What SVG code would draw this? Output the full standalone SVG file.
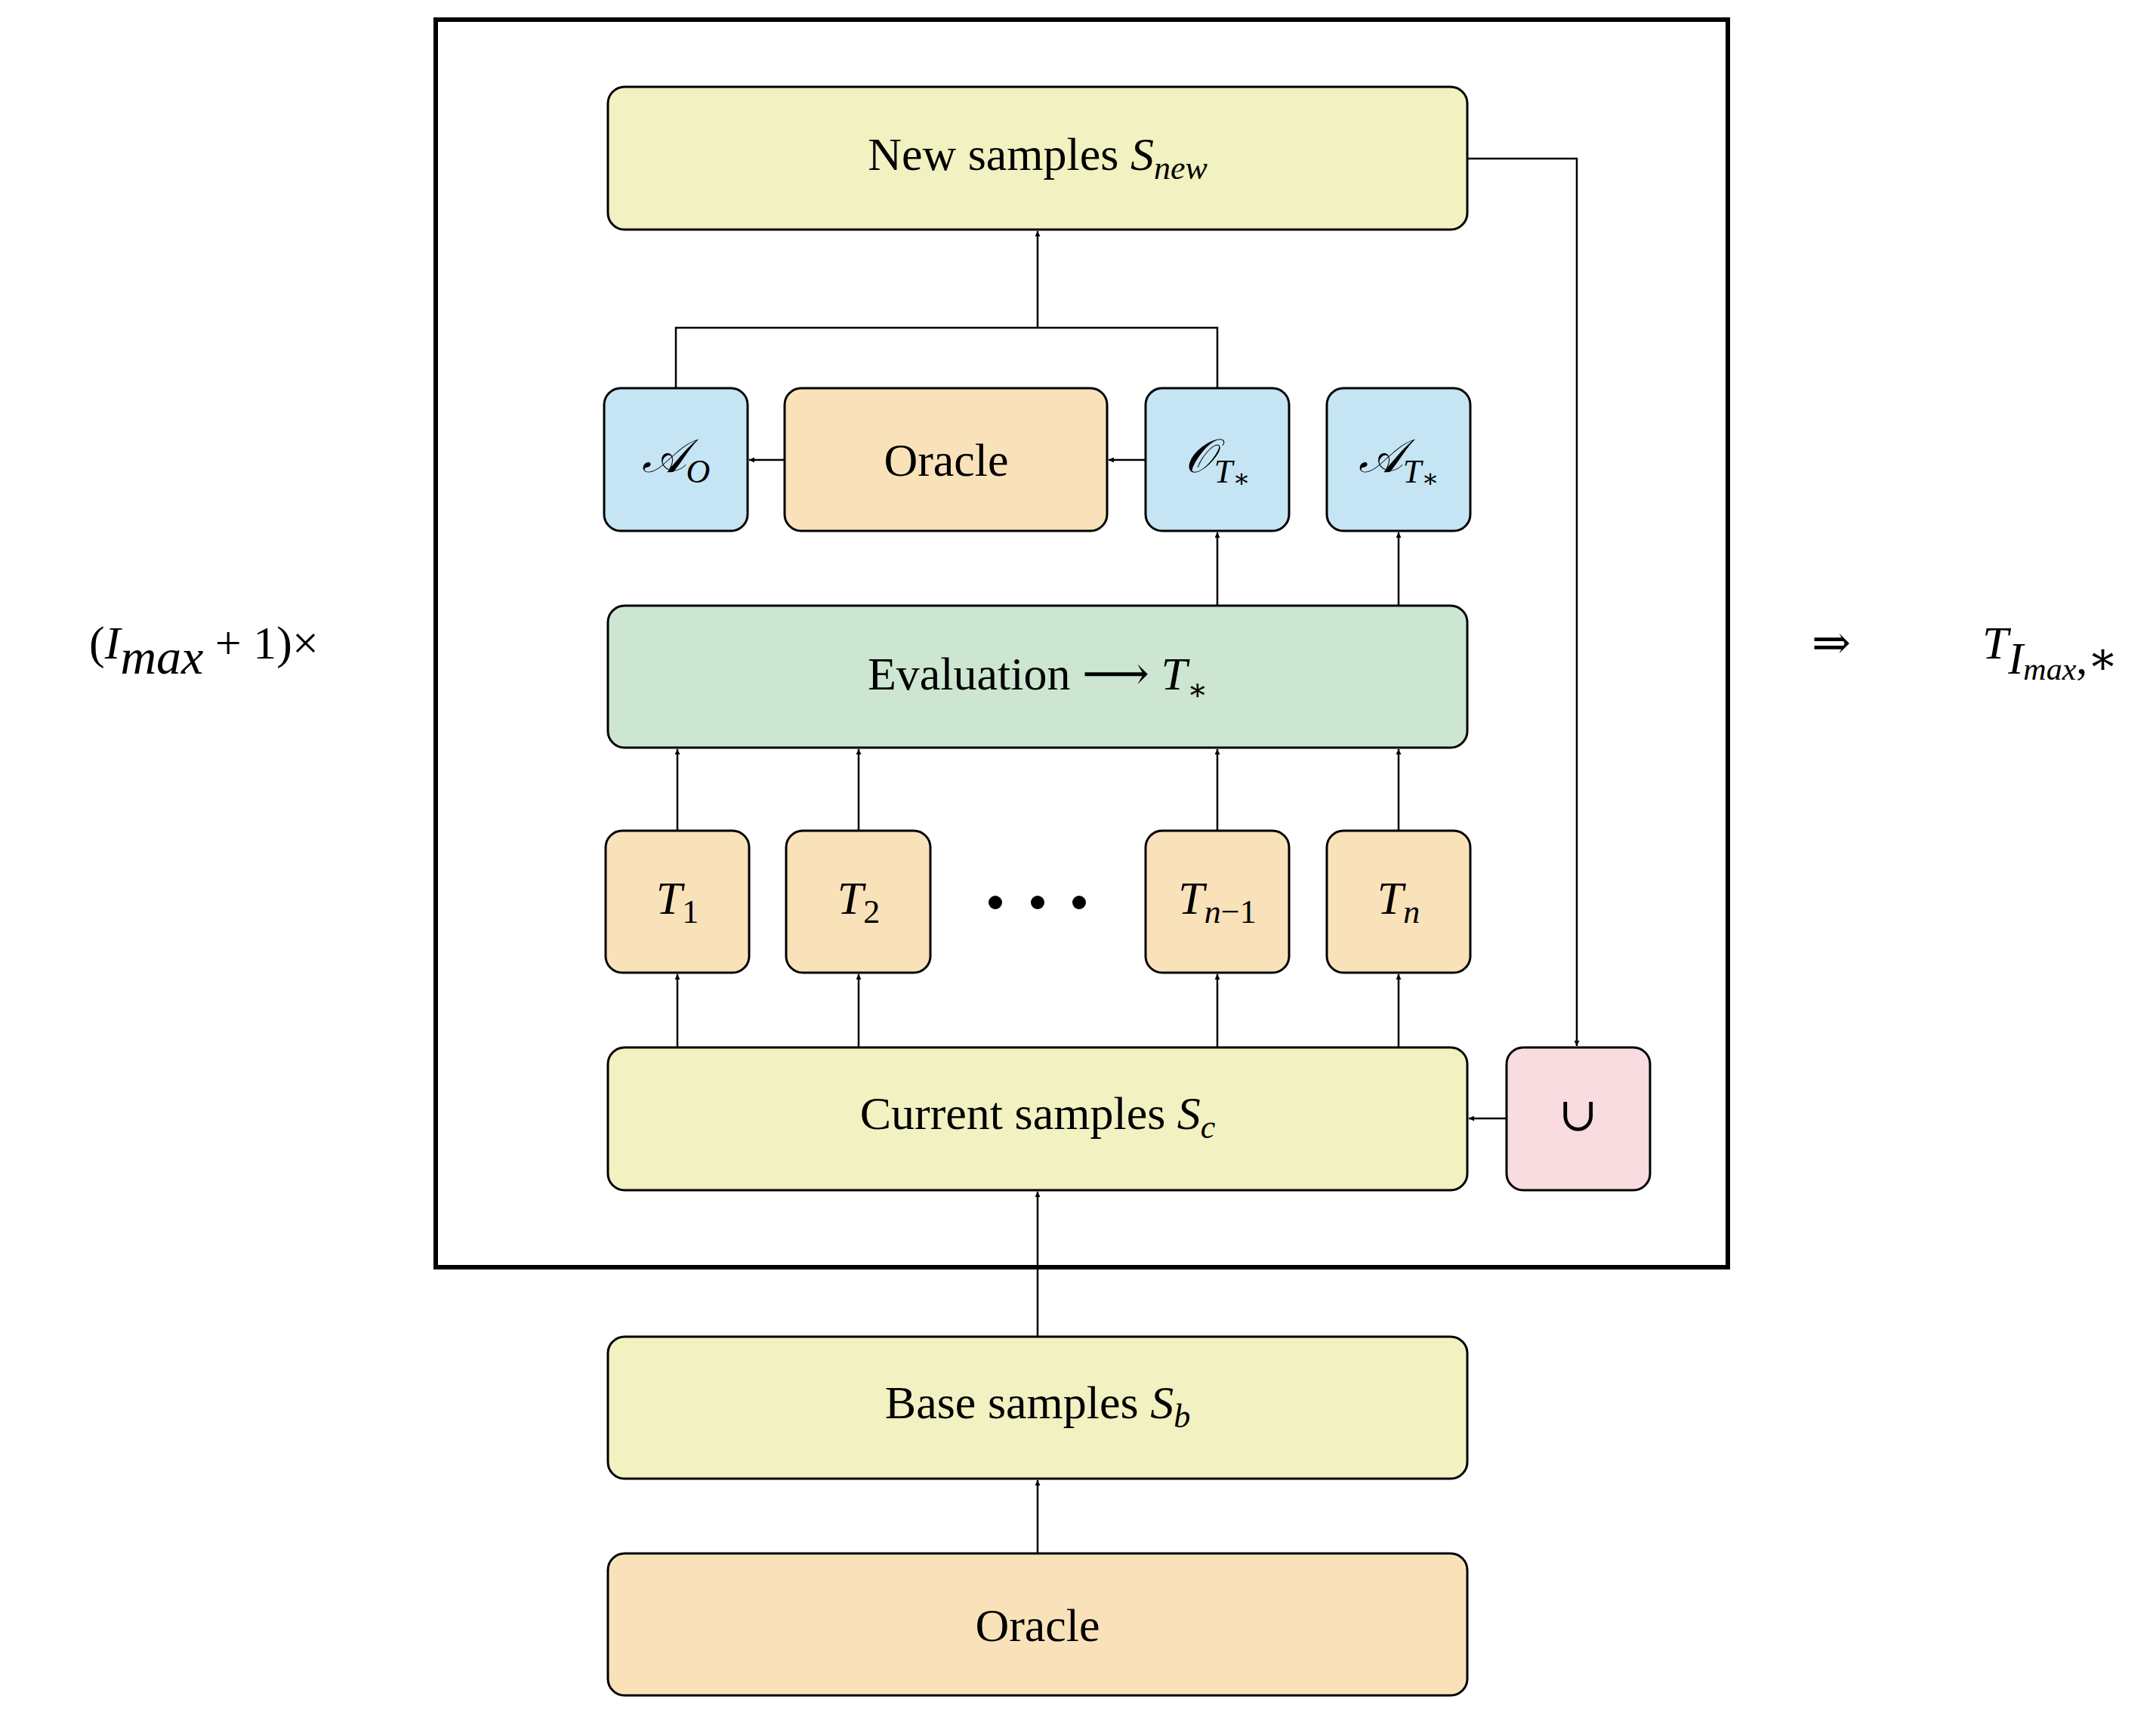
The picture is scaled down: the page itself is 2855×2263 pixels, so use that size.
<svg xmlns="http://www.w3.org/2000/svg" width="2855" height="2263" viewBox="0 0 2855 2263">
<style>
.b{stroke:#000;stroke-width:3}
.y{fill:#f1f1c1}.bl{fill:#c5e5f5}.o{fill:#f9e1ba}.g{fill:#cce6d1}.p{fill:#f9dcdf}
text{font-family:"Liberation Serif","DejaVu Serif",serif;font-size:62px;text-anchor:middle;fill:#000}
.i{font-style:italic}
.s{font-size:44px;font-style:italic}
.c{fill:none;stroke:#000;stroke-width:2.5}
</style>
<defs><marker id="a" viewBox="0 0 10 10" refX="10" refY="5" markerWidth="7" markerHeight="7" orient="auto" markerUnits="userSpaceOnUse"><path d="M0,0L10,5L0,10z" fill="#000" transform="scale(1)"/></marker></defs>
<rect x="577" y="26" width="1711" height="1652" fill="none" stroke="#000" stroke-width="6"/>
<g id="new"><rect class="b y" x="805" y="115" width="1138" height="189" rx="22"/><text x="1374" y="225">New samples <tspan class="i">S</tspan><tspan class="s" dy="12">new</tspan></text></g>
<g id="ao"><rect class="b bl" x="800" y="514" width="190" height="189" rx="22"/><text x="895" y="625" class="i">𝒜<tspan class="s" dy="14">O</tspan></text></g>
<g id="oracle1"><rect class="b o" x="1039" y="514" width="427" height="189" rx="22"/><text x="1253" y="630">Oracle</text></g>
<g id="ot"><rect class="b bl" x="1517" y="514" width="190" height="189" rx="22"/><text x="1612" y="625" class="i">𝒪<tspan class="s" dy="14">T</tspan><tspan font-size="34" dy="6">∗</tspan></text></g>
<g id="at"><rect class="b bl" x="1757" y="514" width="190" height="189" rx="22"/><text x="1852" y="625" class="i">𝒜<tspan class="s" dy="14">T</tspan><tspan font-size="34" dy="6">∗</tspan></text></g>
<g id="eval"><rect class="b g" x="805" y="802" width="1138" height="188" rx="22"/><text x="1374" y="913">Evaluation ⟶ <tspan class="i">T</tspan><tspan font-size="40" dy="14">∗</tspan></text></g>
<g id="t1"><rect class="b o" x="802" y="1100" width="190" height="188" rx="22"/><text x="897" y="1210"><tspan class="i">T</tspan><tspan font-size="44" dy="12">1</tspan></text></g>
<g id="t2"><rect class="b o" x="1041" y="1100" width="191" height="188" rx="22"/><text x="1137" y="1210"><tspan class="i">T</tspan><tspan font-size="44" dy="12">2</tspan></text></g>
<g id="dots" fill="#000"><circle cx="1318" cy="1195" r="9"/><circle cx="1374" cy="1195" r="9"/><circle cx="1429" cy="1195" r="9"/></g>
<g id="tn1"><rect class="b o" x="1517" y="1100" width="190" height="188" rx="22"/><text x="1612" y="1210"><tspan class="i">T</tspan><tspan font-size="44" dy="12"><tspan font-style="italic">n</tspan>−1</tspan></text></g>
<g id="tn"><rect class="b o" x="1757" y="1100" width="190" height="188" rx="22"/><text x="1852" y="1210"><tspan class="i">T</tspan><tspan class="s" dy="12">n</tspan></text></g>
<g id="cur"><rect class="b y" x="805" y="1387" width="1138" height="189" rx="22"/><text x="1374" y="1495">Current samples <tspan class="i">S</tspan><tspan class="s" dy="12">c</tspan></text></g>
<g id="union"><rect class="b p" x="1995" y="1387" width="190" height="189" rx="22"/><text x="2090" y="1497" font-size="56">∪</text></g>
<g id="base"><rect class="b y" x="805" y="1770" width="1138" height="188" rx="22"/><text x="1374" y="1878">Base samples <tspan class="i">S</tspan><tspan class="s" dy="12">b</tspan></text></g>
<g id="oracle2"><rect class="b o" x="805" y="2057" width="1138" height="188" rx="22"/><text x="1374" y="2173">Oracle</text></g>
<g id="labels"><text x="270" y="872" font-size="92">(<tspan class="i">I</tspan><tspan font-size="66" font-style="italic" dy="20">max</tspan><tspan dy="-20"> + 1)×</tspan></text>
<text x="2425" y="872" font-size="80">⇒</text>
<text x="2715" y="872" font-size="92"><tspan class="i">T</tspan><tspan font-size="60" font-style="italic" dy="20">I</tspan><tspan font-size="42" font-style="italic" dy="8">max</tspan><tspan font-size="60" dy="-8">,∗</tspan></text></g>
<g id="connectors">
<path class="c" d="M1943,210H2088V1385" marker-end="url(#a)"/>
<path class="c" d="M895,514V434H1612V514M1374,434V306" marker-end="url(#a)"/>
<path class="c" d="M1517,609H1468" marker-end="url(#a)"/>
<path class="c" d="M1039,609H992" marker-end="url(#a)"/>
<path class="c" d="M1612,802V705" marker-end="url(#a)"/>
<path class="c" d="M1852,802V705" marker-end="url(#a)"/>
<path class="c" d="M897,1100V992" marker-end="url(#a)"/>
<path class="c" d="M1137,1100V992" marker-end="url(#a)"/>
<path class="c" d="M1612,1100V992" marker-end="url(#a)"/>
<path class="c" d="M1852,1100V992" marker-end="url(#a)"/>
<path class="c" d="M897,1387V1290" marker-end="url(#a)"/>
<path class="c" d="M1137,1387V1290" marker-end="url(#a)"/>
<path class="c" d="M1612,1387V1290" marker-end="url(#a)"/>
<path class="c" d="M1852,1387V1290" marker-end="url(#a)"/>
<path class="c" d="M1995,1481H1945" marker-end="url(#a)"/>
<path class="c" d="M1374,1770V1578" marker-end="url(#a)"/>
<path class="c" d="M1374,2057V1960" marker-end="url(#a)"/>
</g>
</svg>
